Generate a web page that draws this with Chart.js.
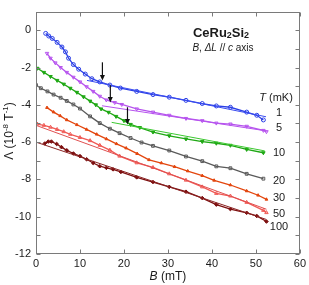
<!DOCTYPE html>
<html>
<head>
<meta charset="utf-8">
<script src="https://cdn.jsdelivr.net/npm/chart.js@4.4.0/dist/chart.umd.min.js"></script>
<style>
  html, body { margin: 0; padding: 0; background: #fff; }
  #wrap { width: 309px; height: 285px; }
</style>
</head>
<body>
<div id="wrap"><canvas id="myChart" width="309" height="285"></canvas></div>
<script>
// B (mT) and Lambda (10^-8 T^-1), one pair per temperature
const b1 = [2.2, 2.9, 3.7, 4.8, 5.9, 6.7, 7.4, 8.5, 9.7, 11.2, 12.7, 14.5, 16.8, 19.2, 22.9, 26.6, 30.3, 34.1, 37.8, 41.0, 44.2, 47.9, 50.2, 51.7];
const lam1 = [-0.17, -0.31, -0.44, -0.65, -0.90, -1.16, -1.50, -1.84, -2.09, -2.35, -2.60, -2.77, -2.94, -3.10, -3.28, -3.45, -3.59, -3.76, -3.93, -4.06, -4.13, -4.39, -4.56, -4.81];

const b5 = [2.5, 3.3, 4.4, 5.6, 7.0, 8.5, 10.0, 11.5, 13.0, 14.5, 16.0, 17.9, 19.5, 22.9, 26.6, 30.3, 34.1, 37.8, 41.0, 44.2, 47.9, 51.7, 52.4];
const lam5 = [-1.24, -1.50, -1.75, -2.00, -2.26, -2.52, -2.77, -3.03, -3.28, -3.54, -3.74, -3.88, -3.98, -4.22, -4.39, -4.56, -4.73, -4.85, -4.98, -5.03, -5.15, -5.37, -5.44];

const b10 = [0.3, 1.8, 3.3, 4.8, 6.3, 7.8, 9.3, 10.8, 12.3, 13.6, 14.8, 16.5, 18.2, 20.0, 21.5, 23.6, 26.6, 30.3, 34.1, 37.8, 41.0, 44.2, 47.9, 51.7];
const lam10 = [-2.04, -2.26, -2.48, -2.69, -2.89, -3.11, -3.33, -3.57, -3.80, -4.00, -4.22, -4.40, -4.62, -4.85, -5.05, -5.22, -5.46, -5.66, -5.83, -5.97, -6.06, -6.17, -6.39, -6.57];

const b20 = [0.0, 1.1, 2.6, 4.0, 5.6, 7.0, 8.5, 10.0, 12.3, 14.5, 16.8, 19.0, 21.5, 24.0, 26.6, 30.3, 34.1, 37.8, 41.0, 44.2, 47.9, 51.7];
const lam20 = [-2.94, -3.11, -3.28, -3.45, -3.62, -3.79, -3.98, -4.20, -4.62, -4.98, -5.28, -5.52, -5.78, -6.02, -6.20, -6.45, -6.77, -7.02, -7.30, -7.40, -7.70, -7.96];

const b30 = [2.5, 4.0, 5.5, 7.0, 9.3, 11.5, 13.8, 16.0, 18.3, 20.5, 23.0, 25.7, 28.5, 31.5, 34.5, 37.8, 40.5, 44.2, 47.9, 50.5, 52.4];
const lam30 = [-4.15, -4.39, -4.59, -4.81, -5.07, -5.32, -5.58, -5.83, -6.09, -6.32, -6.62, -6.95, -7.12, -7.32, -7.55, -7.80, -8.05, -8.30, -8.62, -8.85, -9.07];

const b50 = [0.3, 1.8, 3.3, 4.8, 6.3, 7.8, 10.0, 12.3, 14.5, 16.8, 19.0, 22.9, 26.6, 30.3, 34.1, 37.8, 41.0, 44.2, 47.9, 51.7, 52.4];
const lam50 = [-5.03, -5.10, -5.20, -5.32, -5.44, -5.58, -5.75, -5.92, -6.17, -6.43, -6.75, -7.11, -7.36, -7.70, -8.04, -8.40, -8.75, -8.89, -9.23, -9.66, -9.78];

const b100 = [2.0, 2.8, 3.5, 4.7, 5.8, 7.0, 8.5, 10.0, 11.5, 13.0, 14.5, 16.0, 17.5, 19.3, 22.9, 26.6, 30.3, 34.1, 37.8, 41.0, 44.2, 47.9, 50.2, 52.4];
const lam100 = [-6.07, -5.97, -5.97, -6.10, -6.27, -6.44, -6.61, -6.75, -6.92, -7.12, -7.29, -7.38, -7.46, -7.60, -7.89, -8.14, -8.40, -8.66, -9.00, -9.35, -9.59, -9.79, -9.96, -10.26];

// straight-line fits (end points)
const fitB1 = [11.6, 52.3], fitLam1 = [-2.69, -4.64];
const fitB5 = [15.0, 52.4], fitLam5 = [-4.05, -5.40];
const fitB10 = [17.2, 52.0], fitLam10 = [-4.94, -6.47];
const fitB50 = [0.0, 52.4], fitLam50 = [-5.10, -9.60];
const fitB100 = [0.0, 52.4], fitLam100 = [-6.00, -10.15];

// arrows marking the departure from the fits
const arrowB = [15.1, 16.9, 20.8];
const arrowFrom = [-1.72, -2.95, -4.13];
const arrowTo = [-2.69, -3.87, -5.05];

const tempLabels = ['1', '5', '10', '20', '30', '50', '100'];

function pts(xs, ys) {
    return xs.map((x, i) => ({x: x, y: ys[i]}));
}

function series(xs, ys, color, style, filled, rot, r) {
    return {
        data: pts(xs, ys),
        showLine: true,
        borderColor: color,
        borderWidth: 1.3,
        pointStyle: style,
        pointRotation: rot || 0,
        pointRadius: r || 2,
        pointBorderWidth: 1,
        pointBorderColor: color,
        pointBackgroundColor: filled ? color : 'rgba(0,0,0,0)',
        backgroundColor: color,
        order: 2
    };
}

function fit(xs, ys, color) {
    return {
        data: pts(xs, ys),
        showLine: true,
        borderColor: color,
        borderWidth: 1,
        pointRadius: 0,
        order: 1
    };
}

function rich(ctx, parts, x, y) {
    let w = 0;
    parts.forEach(p => { ctx.font = p.f; w += ctx.measureText(p.t).width; });
    let cx = x - w / 2;
    parts.forEach(p => {
        ctx.font = p.f;
        ctx.fillText(p.t, cx, y + (p.dy || 0));
        cx += ctx.measureText(p.t).width;
    });
}

const FONT = '"Liberation Sans", Arial, sans-serif';

const decor = {
    id: 'decor',
    afterDraw(chart) {
        const ctx = chart.ctx;
        const a = chart.chartArea;
        const xs = chart.scales.x, ys = chart.scales.y;
        const L = Math.round(a.left) + 0.5, R = Math.round(a.right) - 0.5;
        const T = Math.round(a.top) + 0.5, B = Math.round(a.bottom) - 0.5;
        ctx.save();
        ctx.strokeStyle = '#7a7a7a';
        ctx.lineWidth = 1;
        ctx.strokeRect(L, T, R - L, B - T);
        ctx.beginPath();
        for (let v = 0; v <= 60; v += 10) {
            const px = Math.round(xs.getPixelForValue(v)) + 0.5;
            ctx.moveTo(px, B); ctx.lineTo(px, B - 4);
            ctx.moveTo(px, T); ctx.lineTo(px, T + 4);
        }
        for (let v = -12; v <= 1; v += 1) {
            const py = Math.round(ys.getPixelForValue(v)) + 0.5;
            ctx.moveTo(L, py); ctx.lineTo(L + 4, py);
            ctx.moveTo(R, py); ctx.lineTo(R - 4, py);
        }
        ctx.stroke();

        // arrows
        ctx.strokeStyle = '#111';
        ctx.fillStyle = '#111';
        ctx.lineWidth = 1.2;
        for (let i = 0; i < arrowB.length; i++) {
            const px = xs.getPixelForValue(arrowB[i]);
            const y1 = ys.getPixelForValue(arrowFrom[i]);
            const y2 = ys.getPixelForValue(arrowTo[i]);
            ctx.beginPath();
            ctx.moveTo(px, y1); ctx.lineTo(px, y2 - 4);
            ctx.stroke();
            ctx.beginPath();
            ctx.moveTo(px - 2.5, y2 - 5.5); ctx.lineTo(px + 2.5, y2 - 5.5); ctx.lineTo(px, y2);
            ctx.closePath();
            ctx.fill();
        }

        // texts
        ctx.fillStyle = '#1a1a1a';
        ctx.textBaseline = 'middle';
        ctx.textAlign = 'left';
        rich(ctx, [
            {t: 'CeRu', f: 'bold 13px ' + FONT},
            {t: '2', f: 'bold 9px ' + FONT, dy: 3},
            {t: 'Si', f: 'bold 13px ' + FONT},
            {t: '2', f: 'bold 9px ' + FONT, dy: 3}
        ], 221, 33);
        rich(ctx, [
            {t: 'B', f: 'italic 10px ' + FONT},
            {t: ', ', f: '10px ' + FONT},
            {t: '\u0394L', f: 'italic 10px ' + FONT},
            {t: ' // ', f: '10px ' + FONT},
            {t: 'c', f: 'italic 10px ' + FONT},
            {t: ' axis', f: '10px ' + FONT}
        ], 223, 48);
        rich(ctx, [
            {t: 'T', f: 'italic 11px ' + FONT},
            {t: ' (mK)', f: '11px ' + FONT}
        ], 276, 98);
        const labelY = [113, 128, 153, 181, 198, 214, 227];
        ctx.font = '11px ' + FONT;
        ctx.textAlign = 'center';
        tempLabels.forEach((t, i) => ctx.fillText(t, 279, labelY[i]));

        // axis titles
        ctx.textAlign = 'left';
        rich(ctx, [
            {t: 'B', f: 'italic 12px ' + FONT},
            {t: ' (mT)', f: '12px ' + FONT}
        ], (a.left + a.right) / 2, 277);
        ctx.save();
        ctx.translate(10, 131);
        ctx.rotate(-Math.PI / 2);
        rich(ctx, [
            {t: '\u039B (10', f: '12px ' + FONT},
            {t: '-8', f: '8px ' + FONT, dy: -4},
            {t: ' T', f: '12px ' + FONT},
            {t: '-1', f: '8px ' + FONT, dy: -4},
            {t: ')', f: '12px ' + FONT}
        ], 0, 0);
        ctx.restore();
        ctx.restore();
    }
};

const ctx = document.getElementById('myChart').getContext('2d');

const myChart = new Chart(ctx, {
    type: 'scatter',
    data: {
        datasets: [
            series(b1, lam1, '#2b3fe6', 'circle', false),
            series(b5, lam5, '#b653ee', 'triangle', false, 180),
            series(b10, lam10, '#1fa814', 'triangle', true, 180),
            series(b20, lam20, '#5a5a5a', 'rect', false, 0, 2),
            series(b30, lam30, '#e3460e', 'triangle', true, 0, 1.6),
            series(b50, lam50, '#f05a55', 'triangle', false),
            series(b100, lam100, '#7d0f0f', 'rectRot', true, 0, 1.8),
            fit(fitB1, fitLam1, '#3a4cf0'),
            fit(fitB5, fitLam5, '#b653ee'),
            fit(fitB10, fitLam10, '#3cc830'),
            fit(fitB50, fitLam50, '#e05050'),
            fit(fitB100, fitLam100, '#8a2424')
        ]
    },
    options: {
        responsive: false,
        animation: false,
        layout: {padding: {left: 0, right: 7, top: 0, bottom: 0}},
        plugins: {
            legend: {display: false},
            tooltip: {enabled: false}
        },
        scales: {
            x: {
                type: 'linear',
                min: 0,
                max: 60,
                ticks: {stepSize: 10, padding: 3, color: '#1a1a1a', font: {size: 11, family: FONT}, maxRotation: 0},
                grid: {display: false, drawTicks: false},
                border: {display: false},
                afterFit(scale) { scale.height = 31; }
            },
            y: {
                min: -12,
                max: 1,
                ticks: {
                    stepSize: 1,
                    padding: 5,
                    color: '#1a1a1a',
                    font: {size: 11, family: FONT},
                    callback: v => (v % 2 === 0 ? String(v) : '')
                },
                grid: {display: false, drawTicks: false},
                border: {display: false},
                afterFit(scale) { scale.width = 36; }
            }
        }
    },
    plugins: [decor]
});
</script>
</body>
</html>
